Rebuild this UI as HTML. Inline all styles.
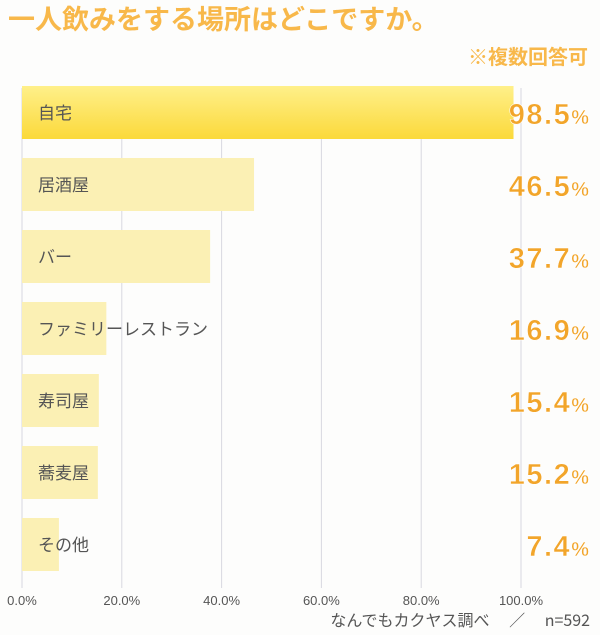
<!DOCTYPE html>
<html><head><meta charset="utf-8"><style>
body{margin:0;background:#fdfdfc;width:600px;height:630px;overflow:hidden;font-family:"Liberation Sans","Noto Sans CJK JP",sans-serif}
</style></head><body>
<svg width="600" height="630" id="c">
<text x="8" y="29" font-size="27" font-weight="bold" fill="#f8b84a" font-family="Noto Sans CJK JP, sans-serif">一人飲みをする場所はどこですか。</text>
<text x="588" y="64" text-anchor="end" font-size="20" font-weight="bold" fill="#f8b84a" font-family="Noto Sans CJK JP, sans-serif">※複数回答可</text>
<text x="590" y="626" text-anchor="end" font-size="16" fill="#555" font-family="Noto Sans CJK JP, sans-serif">なんでもカクヤス調べ　 ／ 　n=592</text>
<defs><linearGradient id="g1" x1="0" y1="0" x2="0" y2="1"><stop offset="0" stop-color="#fff08a"/><stop offset="1" stop-color="#fbd93a"/></linearGradient></defs>
</svg>
<script>
const categories=["自宅","居酒屋","バー","ファミリーレストラン","寿司屋","蕎麦屋","その他"];
const values=[98.5,46.5,37.7,16.9,15.4,15.2,7.4];
const ticks=[0,20,40,60,80,100];
const tickLabels=["0.0%","20.0%","40.0%","60.0%","80.0%","100.0%"];
const svg=document.getElementById('c');
const NS='http://www.w3.org/2000/svg';
const x=v=>22+v*4.99;
const y=i=>86+i*72;
function mk(t,a){const e=document.createElementNS(NS,t);for(const k in a)e.setAttribute(k,a[k]);svg.appendChild(e);return e;}
ticks.forEach((t,i)=>{
 const l=mk('line',{x1:x(t),x2:x(t),y1:88,y2:588,stroke:'#d8d8e0','stroke-width':1});
 
 
 const tx=mk('text',{x:x(t),y:605,'text-anchor':'middle','font-size':13,fill:'#555'});
 tx.textContent=tickLabels[i];
 
 
});
categories.forEach((c,i)=>{
 const r=mk('rect',{x:x(0),y:y(i),width:x(values[i])-x(0),height:53,fill:i==0?'url(#g1)':'#fbf0b4'});
 
 
 const t=mk('text',{x:38,y:y(i)+33,'font-size':17,fill:'#555','font-family':'Noto Sans CJK JP, sans-serif'});
 t.textContent=c;
 
 
 const v=mk('text',{x:589,y:y(i)+38,'text-anchor':'end','font-size':29,'font-weight':'bold','letter-spacing':1.5,fill:'#f2a52a',stroke:'#fff','stroke-width':0.5});
 v.innerHTML=values[i].toFixed(1)+'<tspan font-size="20" letter-spacing="0">%</tspan>';
 
 
});
</script>
</body></html>
